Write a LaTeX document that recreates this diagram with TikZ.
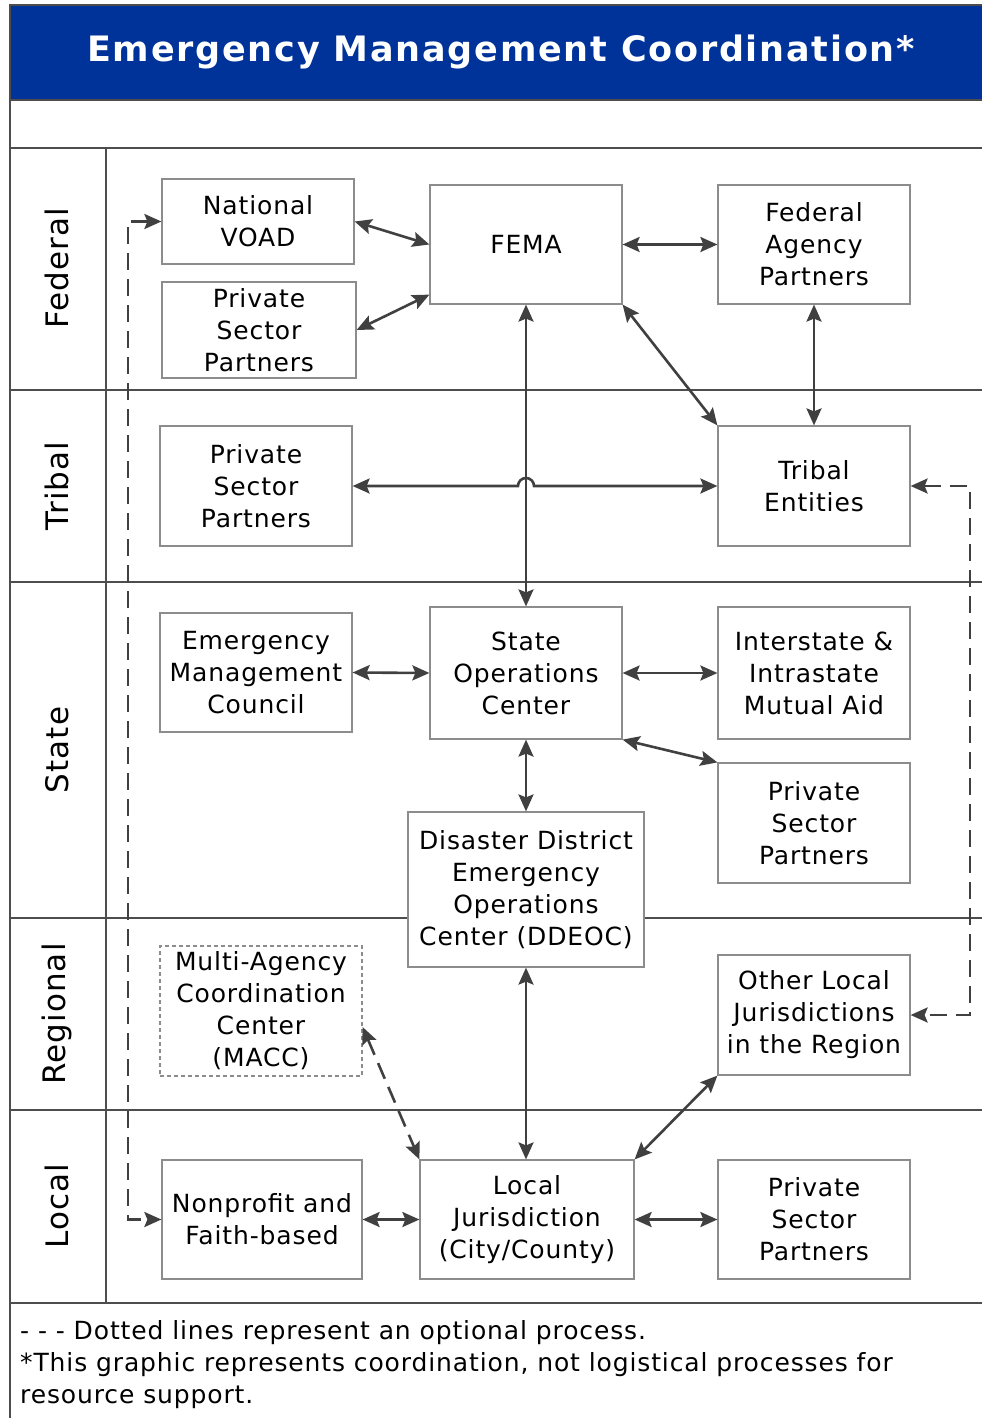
\documentclass[tikz,border=0pt]{standalone}
\usepackage{fontspec}
\setmainfont{DejaVu Sans}
\newfontfamily\boxfont{DejaVu Sans}[LetterSpace=3.5]
\newfontfamily\titlefont{DejaVu Sans}[LetterSpace=5]
\usetikzlibrary{arrows.meta,calc}
\definecolor{titleblue}{HTML}{003399}
\definecolor{gridgray}{HTML}{4D4D4D}
\definecolor{arrowgray}{HTML}{404040}
\definecolor{boxgray}{HTML}{8C8C8C}
\tikzset{
  box/.style={draw=boxgray, line width=1.2pt, inner sep=0pt, align=center,
    font=\boxfont\fontsize{25}{32}\selectfont},
  dbox/.style={box, dashed, dash pattern=on 4pt off 3pt},
  arr/.style={{Stealth[length=17pt,width=15pt,inset=3pt]}-{Stealth[length=17pt,width=15pt,inset=3pt]}, line width=2.6pt, draw=arrowgray},
  darr/.style={arr, dash pattern=on 17pt off 9pt},
  grid/.style={draw=gridgray, line width=2pt},
  rowlabel/.style={rotate=90, font=\boxfont\fontsize{31}{38}\selectfont},
}
\begin{document}
\begin{tikzpicture}[x=1pt,y=-1pt]
\useasboundingbox (0,0) rectangle (982,1418);
% title band
\fill[titleblue] (10,5) rectangle (982,100);
\draw[grid] (982,5) -- (10,5) -- (10,1418);
\draw[grid] (10,100) -- (982,100);
\node[text=white, font=\titlefont\bfseries\fontsize{35}{40}\selectfont] (title) at (501,52) {Emergency Management Coordination*};
% grid
\foreach \yy in {148,390,582,918,1110,1303} {\draw[grid] (10,\yy) -- (982,\yy);}
\draw[grid] (106,148) -- (106,1303);
% row labels
\node[rowlabel] (lfed) at (57,268) {Federal};
\node[rowlabel] (ltri) at (57,486) {Tribal};
\node[rowlabel] (lsta) at (57,750) {State};
\node[rowlabel] (lreg) at (57,1014) {Regional};
\node[rowlabel] (lloc) at (57,1206) {Local};
% boxes
\node[box, fill=white, minimum width=192, minimum height=85] (voad) at (258,221.5) {National\\VOAD};
\node[box, fill=white, minimum width=194, minimum height=96] (pfed) at (259,330) {Private\\Sector\\Partners};
\node[box, fill=white, minimum width=192, minimum height=119] (fema) at (526,244.5) {FEMA};
\node[box, fill=white, minimum width=192, minimum height=119] (fap) at (814,244.5) {Federal\\Agency\\Partners};
\node[box, fill=white, minimum width=192, minimum height=120] (ptri) at (256,486) {Private\\Sector\\Partners};
\node[box, fill=white, minimum width=192, minimum height=120] (tribe) at (814,486) {Tribal\\Entities};
\node[box, fill=white, minimum width=192, minimum height=119] (emc) at (256,672.5) {Emergency\\Management\\Council};
\node[box, fill=white, minimum width=192, minimum height=132] (soc) at (526,673) {State\\Operations\\Center};
\node[box, fill=white, minimum width=192, minimum height=132] (ima) at (814,673) {Interstate \&\\Intrastate\\Mutual Aid};
\node[box, fill=white, minimum width=192, minimum height=120] (psta) at (814,823) {Private\\Sector\\Partners};
\node[box, fill=white, minimum width=236, minimum height=155] (ddeoc) at (526,889.5) {Disaster District\\Emergency\\Operations\\Center (DDEOC)};
\node[dbox, fill=white, minimum width=202, minimum height=130] (macc) at (261,1011) {Multi-Agency\\Coordination\\Center\\(MACC)};
\node[box, fill=white, minimum width=192, minimum height=120] (olj) at (814,1015) {Other Local\\Jurisdictions\\in the Region};
\node[box, fill=white, minimum width=200, minimum height=119] (npf) at (262,1219.5) {Nonprofit and\\Faith-based};
\node[box, fill=white, minimum width=214, minimum height=119] (local) at (527,1219.5) {Local\\Jurisdiction\\(City/County)};
\node[box, fill=white, minimum width=192, minimum height=119] (ploc) at (814,1219.5) {Private\\Sector\\Partners};
% connectors
\draw[arr] (voad.east) -- (fema.west);
\draw[arr] (pfed.east) -- ($(fema.south west)+(0,-10)$);
\draw[arr] (fema.east) -- (fap.west);
\draw[arr] (fap.south) -- (tribe.north);
\draw[arr] (fema.south east) -- (tribe.north west);
\draw[arr] (fema.south) -- (soc.north);
\draw[arr] (ptri.east) -- (518,486) arc (180:360:8) -- (tribe.west);
\draw[arr] (emc.east) -- (soc.west);
\draw[arr] (soc.east) -- (ima.west);
\draw[arr] (soc.south east) -- (psta.north west);
\draw[arr] (soc.south) -- (ddeoc.north);
\draw[arr] (ddeoc.south) -- (local.north -| ddeoc.south);
\draw[arr] (local.north east) -- (olj.south west);
\draw[darr] ($(macc.east)+(0,16)$) -- (local.north west);
\draw[arr] (npf.east) -- (local.west);
\draw[arr] (local.east) -- (ploc.west);
\coordinate (dl1) at (128,221.5);
\coordinate (dl2) at (128,1219.5);
\draw[darr] (voad.west) -- (dl1) -- (dl2) -- (npf.west);
\coordinate (dr1) at (970,486);
\coordinate (dr2) at (970,1015);
\draw[darr] (tribe.east) -- (dr1) -- (dr2) -- (olj.east);
% footer
\node[anchor=north west, align=left, inner sep=0pt, font=\boxfont\fontsize{25}{32}\selectfont] (foot) at (20,1320) {- - - Dotted lines represent an optional process.\\{*}This graphic represents coordination, not logistical processes for\\resource support.};
\end{tikzpicture}
\end{document}
